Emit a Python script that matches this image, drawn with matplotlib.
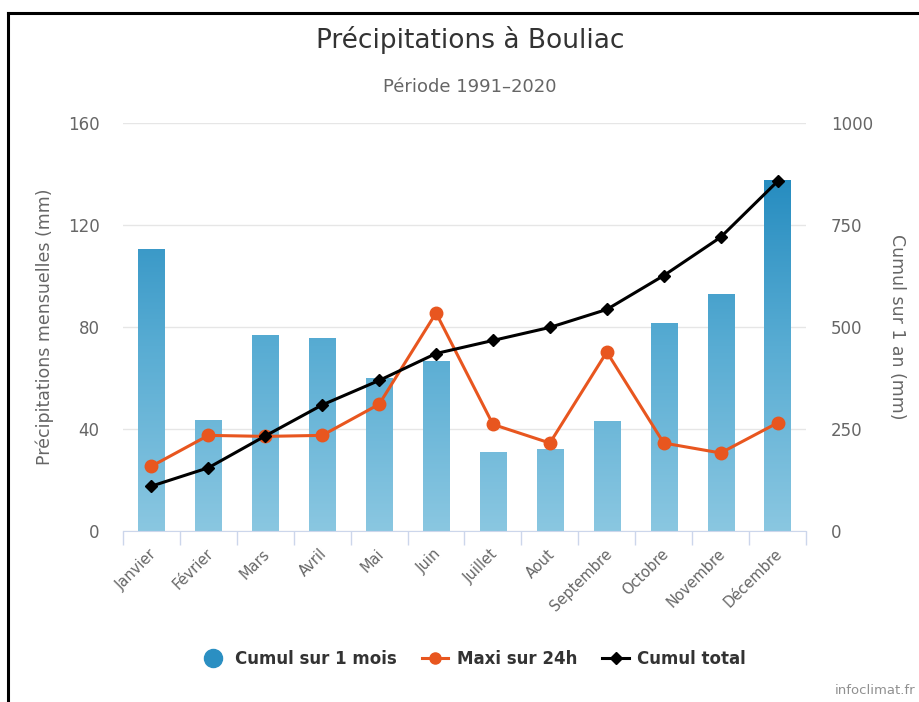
import numpy as np
import matplotlib
matplotlib.use("Agg")
import matplotlib.pyplot as plt
from matplotlib.lines import Line2D
from matplotlib.colors import LinearSegmentedColormap

plt.rcParams['font.family'] = ['DejaVu Sans']

months = ["Janvier", "Février", "Mars", "Avril", "Mai", "Juin", "Juillet",
          "Aout", "Septembre", "Octobre", "Novembre", "Décembre"]
cumul_mois = [110.7, 43.7, 76.7, 75.6, 60.0, 66.5, 31.0, 32.0, 43.0, 81.6, 93.1, 137.8]
maxi_24h = [25.4, 37.5, 37.1, 37.5, 49.7, 85.5, 41.8, 34.5, 70.2, 34.5, 30.6, 42.4]
cumul_total = [110, 155, 233, 309, 369, 435, 467, 499, 543, 626, 720, 857]

left_ticks = [0, 40, 80, 120, 160]
right_ticks = [0, 250, 500, 750, 1000]

W, H = 920, 702
fig = plt.figure(figsize=(W / 100, H / 100), dpi=100)
fig.patch.set_facecolor("white")

ax = fig.add_axes([123 / W, 1 - 531 / H, (806 - 123) / W, (531 - 123) / H])
ax2 = ax.twinx()

x = np.arange(len(months))

# bars with vertical gradient tied to the value axis
cmap = LinearSegmentedColormap.from_list("blu", ["#8ac7e1", "#58acd3", "#2189be"])
bar_w = 0.46
bars = ax.bar(x, cumul_mois, width=bar_w, color="none", edgecolor="none", zorder=2)
grad = np.linspace(0, 1, 256).reshape(-1, 1)
for b in bars:
    x0, w = b.get_x(), b.get_width()
    im = ax.imshow(grad, cmap=cmap, aspect="auto", origin="lower",
                   extent=[x0, x0 + w, 0, 145], zorder=2,
                   interpolation="bilinear")
    im.set_clip_path(b)
ax.set_xlim(-0.5, len(months) - 0.5)
ax.set_ylim(0, 160)
ax2.set_ylim(0, 1000)

# grid
ax.set_yticks(left_ticks)
ax.yaxis.grid(True, color="#e6e6e6", linewidth=1)
ax.set_axisbelow(True)
for s in ["top", "right", "left"]:
    ax.spines[s].set_visible(False)
for s in ["top", "right", "left", "bottom"]:
    ax2.spines[s].set_visible(False)
ax.spines["bottom"].set_color("#ccd6eb")

ax.tick_params(axis="y", length=0, labelsize=12, labelcolor="#666666", pad=17)
ax2.set_yticks(right_ticks)
ax2.tick_params(axis="y", length=0, labelsize=12, labelcolor="#666666", pad=18)

# category boundaries as ticks, labels centered
ax.set_xticks(np.arange(-0.5, len(months), 1), minor=False)
ax.set_xticklabels([""] * (len(months) + 1))
ax.tick_params(axis="x", length=10, color="#ccd6eb", width=1)
for i, m in enumerate(months):
    ax.annotate(m, xy=(i, 0), xycoords=("data", "axes fraction"),
                xytext=(-2, -11), textcoords="offset points",
                rotation=45, ha="right", va="top", rotation_mode="anchor",
                fontsize=10.5, color="#666666")

# lines on the secondary scale
ax2.set_zorder(ax.get_zorder() + 1)
ax2.patch.set_visible(False)
ax2.plot(x, np.array(maxi_24h) * 1000 / 160, color="#e8561f", linewidth=2.2,
         marker="o", markersize=9, zorder=4)
ax2.plot(x, cumul_total, color="black", linewidth=2.2, marker="D",
         markersize=6.5, zorder=5)

ax.set_ylabel("Précipitations mensuelles (mm)", fontsize=12.5, color="#666666", labelpad=10)
ax2.set_ylabel("Cumul sur 1 an (mm)", fontsize=12.5, color="#666666",
               rotation=-90, labelpad=24)

fig.text(470 / W, 1 - 40 / H, "Précipitations à Bouliac", ha="center", va="center",
         fontsize=19, color="#333333")
fig.text(470 / W, 1 - 87 / H, "Période 1991–2020", ha="center", va="center",
         fontsize=13, color="#666666")
fig.text(915 / W, 1 - 690 / H, "infoclimat.fr", ha="right", va="center",
         fontsize=9.5, color="#909090")

handles = [
    Line2D([], [], linestyle="none", marker="o", markersize=13, color="#2b8fc2"),
    Line2D([], [], color="#e8561f", linewidth=2.2, marker="o", markersize=8),
    Line2D([], [], color="black", linewidth=2.2, marker="D", markersize=6),
]
labels = ["Cumul sur 1 mois", "Maxi sur 24h", "Cumul total"]
leg = fig.legend(handles, labels, loc="center", bbox_to_anchor=(473 / W, 1 - 659 / H),
                 ncol=3, frameon=False, handlelength=1.6, columnspacing=1.5,
                 handletextpad=0.5, prop={"weight": "bold", "size": 12})
for t in leg.get_texts():
    t.set_color("#333333")

# outer frame lines
fig.add_artist(Line2D([8 / W, 1], [1 - 13 / H, 1 - 13 / H], color="black",
                      linewidth=2.2, transform=fig.transFigure))
fig.add_artist(Line2D([8 / W, 8 / W], [0, 1 - 13 / H], color="black",
                      linewidth=2.2, transform=fig.transFigure))

fig.savefig("out.png", dpi=100, facecolor="white")
